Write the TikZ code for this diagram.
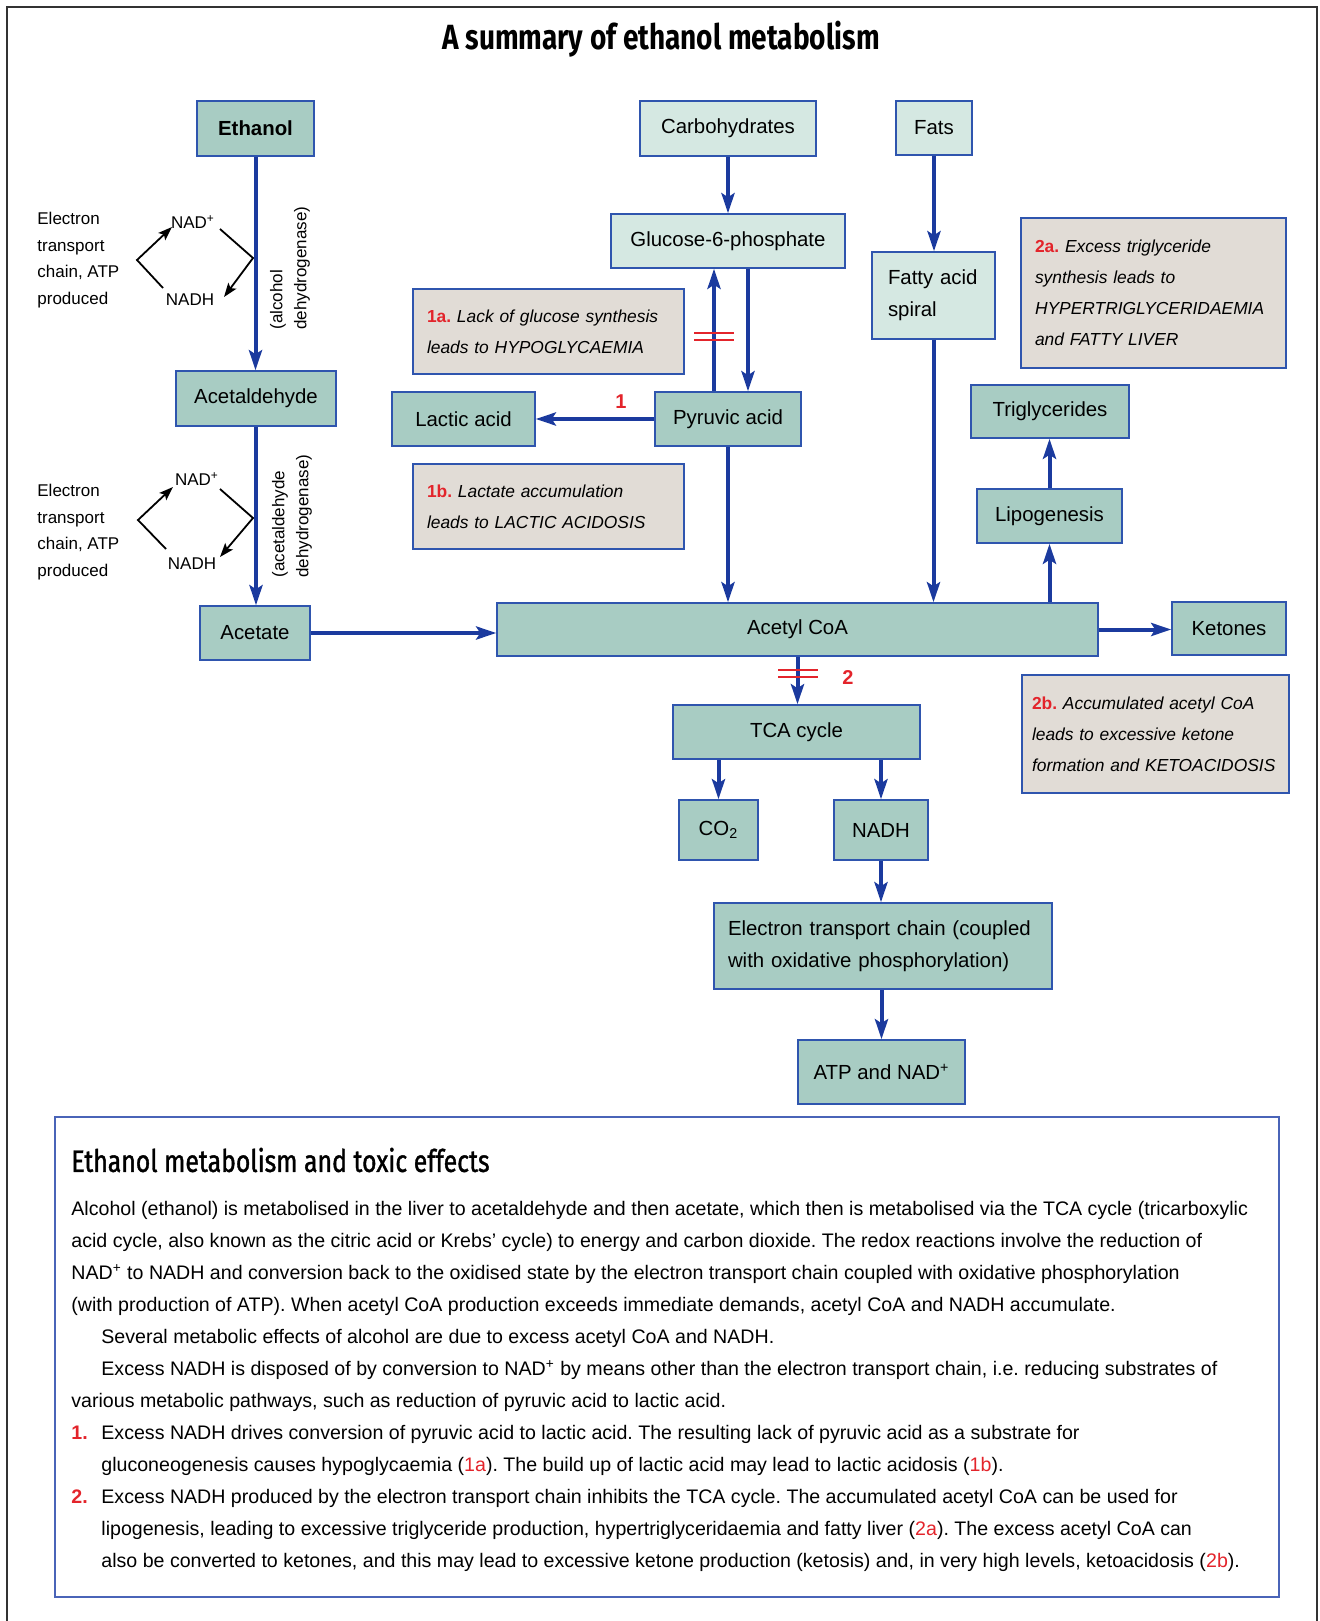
\documentclass[tikz,border=0pt]{standalone}
\usepackage{fontspec}
\setmainfont{Liberation Sans}
\newfontfamily\headfont[FakeStretch=0.8]{Fira Sans}
\newfontfamily\subheadfont[FakeStretch=0.8,FakeBold=1.2]{Fira Sans}
\usepackage{xcolor}
\usetikzlibrary{arrows.meta}
\frenchspacing
\definecolor{tealfill}{HTML}{A8CCC3}
\definecolor{palefill}{HTML}{D5E8E2}
\definecolor{notefill}{HTML}{E1DCD6}
\definecolor{boxblue}{HTML}{2F55AE}
\definecolor{arrowblue}{HTML}{1B3A9E}
\definecolor{blockred}{HTML}{E3242B}
\definecolor{panelblue}{HTML}{4A64B8}
\definecolor{framegray}{HTML}{333333}
\newcommand{\notetag}[1]{\textcolor{blockred}{\upshape\bfseries #1}}
\newcommand{\listnum}[1]{\makebox[15pt][l]{\textcolor{blockred}{\bfseries #1}}}
\tikzset{
  teal box/.style={draw=boxblue, line width=0.75pt, fill=tealfill, inner sep=0pt,
                   font=\fontsize{10.2}{16}\selectfont, align=center},
  pale box/.style={teal box, fill=palefill},
  note box/.style={draw=boxblue, line width=0.75pt, fill=notefill, inner xsep=7pt, inner ysep=0pt,
                   align=left, font=\fontsize{8.7}{15.5}\selectfont\itshape},
  flow/.style={draw=arrowblue, line width=2pt, -{Stealth[length=10pt,width=6.5pt,inset=2pt]}},
  redox/.style={draw=black, line width=0.9pt},
  redox tip/.style={redox, -{Stealth[length=7pt,width=5pt,inset=1.5pt]}},
  block bar/.style={draw=blockred, line width=1.3pt},
  path number/.style={text=blockred, font=\bfseries\fontsize{10}{12}\selectfont, inner sep=0pt},
  loop text/.style={font=\fontsize{8.5}{13.35}\selectfont, align=left, inner sep=0pt, anchor=west},
  redox label/.style={font=\fontsize{8.5}{10}\selectfont, inner sep=0pt},
  enzyme/.style={rotate=90, font=\fontsize{8.5}{12}\selectfont, align=left, inner sep=0pt, anchor=west},
}

\begin{document}
\begin{tikzpicture}[x=0.5pt,y=-0.5pt]
\useasboundingbox (0,0) rectangle (1319,1621);
\draw[framegray, line width=0.9pt] (7,1621) -- (7,7) -- (1317,7) -- (1317,1621);

\node[font=\headfont\bfseries\fontsize{17.5}{20}\selectfont] (title) at (661,39) {A summary of ethanol metabolism};

% ethanol chain
\node[teal box, minimum width=58.5pt, minimum height=27.5pt, font=\bfseries\fontsize{10.2}{12}\selectfont] (ethanol) at (255.5,128.5) {Ethanol};
\node[teal box, minimum width=80pt, minimum height=27.5pt] (acetaldehyde) at (256,398.5) {Acetaldehyde};
\node[teal box, minimum width=55pt, minimum height=27pt] (acetate) at (255,633) {Acetate};
\node[enzyme] (adh) at (290,330) {(alcohol\\ dehydrogenase)};
\node[enzyme] (aldh) at (292,578) {(acetaldehyde\\ dehydrogenase)};

% redox loops beside the chain
\node[loop text] (etcA) at (37,260) {Electron\\ transport\\ chain, ATP\\ produced};
\node[redox label] (nadA) at (193,222) {NAD\textsuperscript{+}};
\node[redox label] (nadhA) at (190,300) {NADH};
\coordinate (leftA) at (137,260);
\coordinate (rightA) at (253,258);
\draw[redox tip] (163,288) -- (leftA) -- (172,227);
\draw[redox tip] (220,229) -- (rightA) -- (224,297);
\node[loop text] (etcB) at (37,532) {Electron\\ transport\\ chain, ATP\\ produced};
\node[redox label] (nadB) at (197,479) {NAD\textsuperscript{+}};
\node[redox label] (nadhB) at (192,564) {NADH};
\coordinate (leftB) at (138,520);
\coordinate (rightB) at (253,518);
\draw[redox tip] (166,549) -- (leftB) -- (173,487);
\draw[redox tip] (220,489) -- (rightB) -- (220,557);

% carbohydrate and fat inputs
\node[pale box, minimum width=88pt, minimum height=27.5pt] (carbs) at (728,128.5) {Carbohydrates};
\node[pale box, minimum width=38pt, minimum height=27pt] (fats) at (934,128) {Fats};
\node[pale box, minimum width=117pt, minimum height=27pt] (glucose) at (728,241) {Glucose-6-phosphate};
\node[pale box, text width=45.5pt, inner xsep=8pt, minimum height=43.5pt, align=left] (fattyacid) at (933.5,295.5) {Fatty acid\\ spiral};
\node[teal box, minimum width=71.5pt, minimum height=27pt] (lactic) at (463.5,419) {Lactic acid};
\node[teal box, minimum width=73pt, minimum height=27pt] (pyruvic) at (728,419) {Pyruvic acid};
\node[teal box, minimum width=79pt, minimum height=26.5pt] (triglycerides) at (1050,411.5) {Triglycerides};
\node[teal box, minimum width=72.5pt, minimum height=27pt] (lipogenesis) at (1049.5,516) {Lipogenesis};
\node[teal box, minimum width=300.5pt, minimum height=26.5pt] (acetylcoa) at (797.5,629.5) {Acetyl CoA};
\node[teal box, minimum width=57pt, minimum height=26.5pt] (ketones) at (1229,628.5) {Ketones};
\node[teal box, minimum width=123.5pt, minimum height=27pt] (tca) at (796.5,732) {TCA cycle};
\node[teal box, minimum width=39.5pt, minimum height=30pt] (co2) at (718.5,830) {CO\textsubscript{2}};
\node[teal box, minimum width=47pt, minimum height=30pt] (nadh) at (881,830) {NADH};
\node[teal box, text width=155pt, inner xsep=7pt, minimum height=43pt, align=left] (etc) at (883,946) {Electron transport chain (coupled\\ with oxidative phosphorylation)};
\node[teal box, minimum width=83.5pt, minimum height=32pt] (atp) at (881.5,1072) {ATP and NAD\textsuperscript{+}};

% toxic effect notes
\node[note box, text width=121.5pt, minimum height=42.5pt] (note1a) at (548.5,331.5) {\notetag{1a.} Lack of glucose synthesis\\ leads to HYPOGLYCAEMIA};
\node[note box, text width=121.5pt, minimum height=42.5pt] (note1b) at (548.5,506.5) {\notetag{1b.} Lactate accumulation\\ leads to LACTIC ACIDOSIS};
\node[note box, text width=118.5pt, minimum height=75pt] (note2a) at (1153.5,293) {\notetag{2a.} Excess triglyceride\\ synthesis leads to\\ HYPERTRIGLYCERIDAEMIA\\ and FATTY LIVER};
\node[note box, text width=123.5pt, inner xsep=5pt, minimum height=59pt] (note2b) at (1155.5,734) {\notetag{2b.} Accumulated acetyl CoA\\ leads to excessive ketone\\ formation and KETOACIDOSIS};

% pathways
\draw[flow] (ethanol.south) -- (ethanol.south |- acetaldehyde.north);
\draw[flow] (acetaldehyde.south) -- (acetaldehyde.south |- acetate.north);
\draw[flow] (acetate.east) -- (acetate.east -| acetylcoa.west);
\draw[flow] (carbs.south) -- (glucose.north);
\draw[flow] ([xshift=-7pt]pyruvic.north) -- ([xshift=-7pt]pyruvic.north |- glucose.south);
\draw[flow] ([xshift=10pt]glucose.south) -- ([xshift=10pt]glucose.south |- pyruvic.north);
\draw[flow] (pyruvic.west) -- (lactic.east);
\draw[flow] (pyruvic.south) -- (pyruvic.south |- acetylcoa.north);
\draw[flow] (fats.south) -- (fats.south |- fattyacid.north);
\draw[flow] (fattyacid.south) -- (fattyacid.south |- acetylcoa.north);
\draw[flow] (acetylcoa.north -| lipogenesis) -- (lipogenesis.south);
\draw[flow] (lipogenesis.north) -- (lipogenesis.north |- triglycerides.south);
\draw[flow] (acetylcoa.east) -- (acetylcoa.east -| ketones.west);
\draw[flow] (acetylcoa.south) -- (acetylcoa.south |- tca.north);
\draw[flow] (tca.south -| co2) -- (co2.north);
\draw[flow] (tca.south -| nadh) -- (nadh.north);
\draw[flow] (nadh.south) -- (nadh.south |- etc.north);
\draw[flow] (etc.south -| atp) -- (atp.north);

% blocks and step numbers
\draw[block bar] (694,333) -- (734,333) (694,340) -- (734,340);
\draw[block bar] (778,670) -- (818,670) (778,677) -- (818,677);
\node[path number] (stepone) at (621,402) {1};
\node[path number] (steptwo) at (848,678) {2};

% summary panel
\draw[panelblue, line width=0.7pt] (55,1117) rectangle (1279,1597);
\node[anchor=west, inner sep=0pt, font=\subheadfont\fontsize{15.5}{18}\selectfont] (heading) at (71,1160) {Ethanol metabolism and toxic effects};
\node[anchor=north west, inner sep=0pt, align=left, font=\fontsize{9.8}{16}\selectfont] (summary) at (71,1201) {Alcohol (ethanol) is metabolised in the liver to acetaldehyde and then acetate, which then is metabolised via the TCA cycle (tricarboxylic\\
acid cycle, also known as the citric acid or Krebs’ cycle) to energy and carbon dioxide. The redox reactions involve the reduction of\\
NAD\textsuperscript{+} to NADH and conversion back to the oxidised state by the electron transport chain coupled with oxidative phosphorylation\\
(with production of ATP). When acetyl CoA production exceeds immediate demands, acetyl CoA and NADH accumulate.\\
\hspace*{15pt}Several metabolic effects of alcohol are due to excess acetyl CoA and NADH.\\
\hspace*{15pt}Excess NADH is disposed of by conversion to NAD\textsuperscript{+} by means other than the electron transport chain, i.e. reducing substrates of\\
various metabolic pathways, such as reduction of pyruvic acid to lactic acid.\\
\listnum{1.}Excess NADH drives conversion of pyruvic acid to lactic acid. The resulting lack of pyruvic acid as a substrate for\\
\hspace*{15pt}gluconeogenesis causes hypoglycaemia (\textcolor{blockred}{1a}). The build up of lactic acid may lead to lactic acidosis (\textcolor{blockred}{1b}).\\
\listnum{2.}Excess NADH produced by the electron transport chain inhibits the TCA cycle. The accumulated acetyl CoA can be used for\\
\hspace*{15pt}lipogenesis, leading to excessive triglyceride production, hypertriglyceridaemia and fatty liver (\textcolor{blockred}{2a}). The excess acetyl CoA can\\
\hspace*{15pt}also be converted to ketones, and this may lead to excessive ketone production (ketosis) and, in very high levels, ketoacidosis (\textcolor{blockred}{2b}).};
\end{tikzpicture}
\end{document}
